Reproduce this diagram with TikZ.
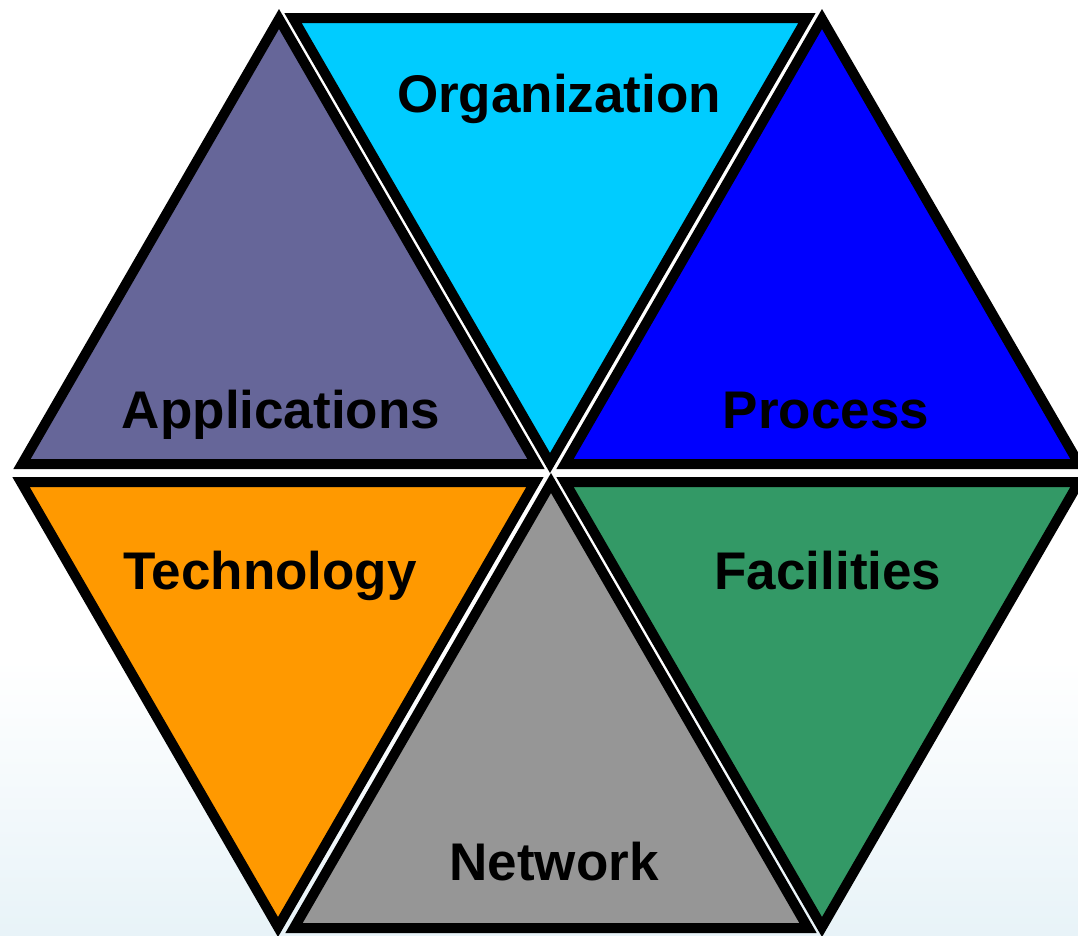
\documentclass[tikz,border=0pt]{standalone}
\usepackage{fontspec}
\setmainfont{Liberation Sans}
\definecolor{cApp}{HTML}{666699}
\definecolor{cOrg}{HTML}{00CCFF}
\definecolor{cPro}{HTML}{0000FF}
\definecolor{cTec}{HTML}{FF9900}
\definecolor{cNet}{HTML}{969696}
\definecolor{cFac}{HTML}{339966}
\definecolor{bgBlue}{HTML}{E8F3F8}
\begin{document}
\begin{tikzpicture}[x=1pt,y=-1pt,
  tri/.style={draw=black,line width=10pt,line join=miter,miter limit=10},
  lab/.style={anchor=base,inner sep=0pt,font=\fontsize{53}{60}\selectfont\bfseries,text=black}]
\useasboundingbox (0,0) rectangle (1078,935);
\fill[white] (0,0) rectangle (1078,935);
\shade[top color=white,bottom color=bgBlue] (0,660) rectangle (1078,935);
% triangles
\draw[tri,fill=cApp] (279,19) -- (22,464) -- (536,464) -- cycle;
\draw[tri,fill=cOrg] (293,18) -- (807,18) -- (550,463) -- cycle;
\draw[tri,fill=cPro] (822,19) -- (565,464) -- (1079,464) -- cycle;
\draw[tri,fill=cTec] (21,482) -- (535,482) -- (278,927) -- cycle;
\draw[tri,fill=cNet] (551,483) -- (294,928) -- (808,928) -- cycle;
\draw[tri,fill=cFac] (565,482) -- (1079,482) -- (822,927) -- cycle;
% labels
\node[lab] (org) at (559,112) {Organization};
\node[lab] (app) at (281,428) {Applications};
\node[lab] (pro) at (826,428) {Process};
\node[lab] (tec) at (270,589) {Technology};
\node[lab] (fac) at (828,589) {Facilities};
\node[lab] (net) at (554,880) {Network};
\end{tikzpicture}
\end{document}
